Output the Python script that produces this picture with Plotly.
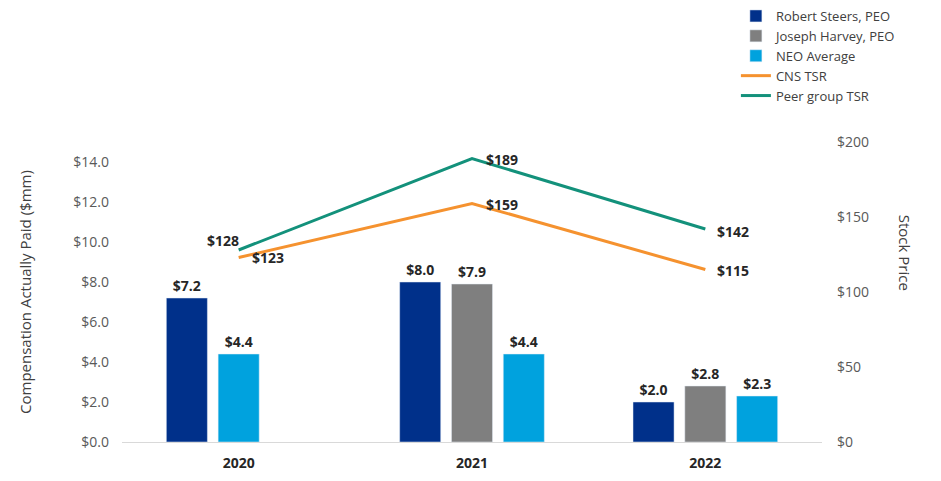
import plotly.graph_objects as go

years = ["2020", "2021", "2022"]
steers = [7.2, 8.0, 2.0]
harvey = [None, 7.9, 2.8]
neo_avg = [4.4, 4.4, 2.3]
cns_tsr = [123, 159, 115]
peer_tsr = [128, 189, 142]

C_STEERS = "#00308A"
C_HARVEY = "#7F7F7F"
C_NEO = "#00A2DE"
C_CNS = "#F5922F"
C_PEER = "#13917B"

BW = 0.176
lbl_font = dict(family="Open Sans", size=14, color="#262626")

fig = go.Figure()
fig.add_trace(go.Bar(name="Robert Steers, PEO", x=years, y=steers, width=BW,
                     offset=[-0.31, -0.31, -0.31], marker_color=C_STEERS,
                     texttemplate="<b>$%{y:.1f}</b>", textposition="outside",
                     textfont=lbl_font, cliponaxis=False))
fig.add_trace(go.Bar(name="Joseph Harvey, PEO", x=years, y=harvey, width=BW,
                     offset=[-0.088, -0.088, -0.088], marker_color=C_HARVEY,
                     texttemplate="<b>$%{y:.1f}</b>", textposition="outside",
                     textfont=lbl_font, cliponaxis=False))
fig.add_trace(go.Bar(name="NEO Average", x=years, y=neo_avg, width=BW,
                     offset=[-0.088, 0.134, 0.134], marker_color=C_NEO,
                     texttemplate="<b>$%{y:.1f}</b>", textposition="outside",
                     textfont=lbl_font, cliponaxis=False))
fig.add_trace(go.Scatter(name="CNS TSR", x=years, y=cns_tsr, yaxis="y2",
                         mode="lines", line=dict(color=C_CNS, width=3)))
fig.add_trace(go.Scatter(name="Peer group TSR", x=years, y=peer_tsr, yaxis="y2",
                         mode="lines", line=dict(color=C_PEER, width=3)))

annotations = []
# label placement (style only): (xanchor, xshift, yshift)
cns_pos = [("left", 11, 0), ("left", 12, -1), ("left", 10, -1)]
peer_pos = [("right", 2, 10), ("left", 12, -1), ("left", 10, -2)]
for vals, pos in ((cns_tsr, cns_pos), (peer_tsr, peer_pos)):
    for i, (v, (xa, xs, ys)) in enumerate(zip(vals, pos)):
        annotations.append(dict(x=i, y=v, xref="x", yref="y2", text="<b>$%d</b>" % v,
                                showarrow=False, xanchor=xa, yanchor="middle",
                                xshift=xs, yshift=ys, font=lbl_font))
annotations.append(dict(text="Stock Price", xref="paper", yref="paper",
                        x=1.119, y=0.63, textangle=90, showarrow=False,
                        xanchor="center", yanchor="middle",
                        font=dict(size=15, color="#404040")))
annotations.append(dict(text="Compensation Actually Paid ($mm)", xref="paper", yref="paper",
                        x=-0.1386, y=0.5, textangle=-90, showarrow=False,
                        xanchor="center", yanchor="middle",
                        font=dict(size=15, color="#404040")))

fig.update_layout(
    width=933, height=473,
    margin=dict(l=114, r=119, t=134, b=39, autoexpand=False),
    paper_bgcolor="white", plot_bgcolor="white",
    barmode="overlay",
    font=dict(family="Open Sans", color="#595959", size=14),
    showlegend=True,
    legend=dict(x=0.877, y=1.47, xanchor="left", yanchor="top",
                font=dict(size=13, color="#404040"), tracegroupgap=0,
                itemwidth=30, bgcolor="rgba(0,0,0,0)"),
    xaxis=dict(type="category", range=[-0.5, 2.5], showline=True, linecolor="#D9D9D9",
               linewidth=1, ticks="", showgrid=False, ticklabelstandoff=8,
               tickfont=dict(family="Open Sans", size=14, color="#262626"),
               ticktext=["<b>%s</b>" % y for y in years], tickvals=years),
    yaxis=dict(range=[0, 15], dtick=2, tickformat="$.1f", showgrid=False,
               zeroline=False, ticks="", ticklabelstandoff=12,
               tickfont=dict(size=14, color="#595959")),
    yaxis2=dict(range=[0, 200], dtick=50, tickprefix="$", overlaying="y", side="right",
                showgrid=False, zeroline=False, ticks="", ticklabelstandoff=14,
                tickfont=dict(size=14, color="#595959")),
    annotations=annotations,
)

fig.write_html("out.html")
